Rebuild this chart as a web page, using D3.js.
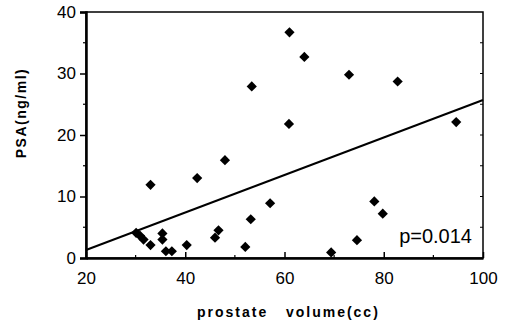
<!DOCTYPE html>
<html>
<head>
<meta charset="utf-8">
<script src="https://cdn.jsdelivr.net/npm/d3@7"></script>
<style>
  body { margin: 0; background: #fff; }
  svg { display: block; }
</style>
</head>
<body>
<div id="chart"></div>
<script>
// prostate volume (cc) vs PSA (ng/ml)
const volume = [61, 64, 73, 82.8, 53.4, 60.9, 94.6, 48, 42.4, 33, 30.1, 30.9, 31.6, 33,
  35.4, 35.4, 36.1, 37.3, 40.3, 46.7, 46, 52.1, 53.2, 57.1, 78.1, 79.8, 74.6, 69.4];
const psa = [36.7, 32.7, 29.8, 28.7, 27.9, 21.8, 22.1, 15.9, 13.0, 11.9, 4.1, 3.6, 3.0, 2.1,
  4.0, 3.0, 1.1, 1.1, 2.1, 4.5, 3.3, 1.8, 6.3, 8.9, 9.2, 7.2, 2.9, 0.9];
const fitX = [20, 100];
const fitY = [1.3, 25.7];
const xTicks = [20, 40, 60, 80, 100];
const yTicks = [0, 10, 20, 30, 40];
const pLabel = "p=0.014";

const width = 505, height = 323;
const margin = {left: 86, right: 22, top: 12, bottom: 65};

const svg = d3.select('#chart').append('svg')
  .attr('width', width)
  .attr('height', height);

const x = d3.scaleLinear().domain([20, 100]).range([margin.left, width - margin.right]);
const y = d3.scaleLinear().domain([0, 40]).range([height - margin.bottom, margin.top]);

const font = "'Liberation Sans', Arial, sans-serif";

// frame
svg.append('rect')
  .attr('x', x(20)).attr('y', y(40))
  .attr('width', x(100) - x(20)).attr('height', y(0) - y(40))
  .attr('fill', 'none').attr('stroke', '#000').attr('stroke-width', 1.5);

// y axis (outward ticks)
svg.append('g')
  .attr('transform', `translate(${x(20)},0)`)
  .call(d3.axisLeft(y).tickValues(yTicks).tickSize(6).tickPadding(4))
  .call(g => g.select('.domain').attr('stroke-width', 2.5))
  .call(g => g.selectAll('.tick line').attr('stroke-width', 1.5))
  .call(g => g.selectAll('.tick text').style('font', `17px ${font}`).attr('fill', '#000'));

svg.append('g')
  .selectAll('line')
  .data([5, 15, 25, 35])
  .join('line')
  .attr('x1', x(20) - 3).attr('x2', x(20))
  .attr('y1', d => y(d)).attr('y2', d => y(d))
  .attr('stroke', '#000').attr('stroke-width', 1.2);

// x axis (inward ticks)
svg.append('g')
  .attr('transform', `translate(0,${y(0)})`)
  .call(d3.axisBottom(x).tickValues(xTicks).tickSizeInner(-6).tickSizeOuter(0).tickPadding(14))
  .call(g => g.select('.domain').attr('stroke-width', 2.5))
  .call(g => g.selectAll('.tick line').attr('stroke-width', 1.5))
  .call(g => g.selectAll('.tick text').style('font', `17px ${font}`).attr('fill', '#000'));

svg.append('g')
  .selectAll('line')
  .data([30, 50, 70, 90])
  .join('line')
  .attr('x1', d => x(d)).attr('x2', d => x(d))
  .attr('y1', y(0)).attr('y2', y(0) - 3)
  .attr('stroke', '#000').attr('stroke-width', 1.2);

// right side small ticks
svg.append('g')
  .selectAll('line')
  .data([5, 10, 15, 20, 25, 30, 35])
  .join('line')
  .attr('x1', x(100) - 3).attr('x2', x(100))
  .attr('y1', d => y(d)).attr('y2', d => y(d))
  .attr('stroke', '#000').attr('stroke-width', 1);

// regression line
svg.append('line')
  .attr('x1', x(fitX[0])).attr('y1', y(fitY[0]))
  .attr('x2', x(fitX[1])).attr('y2', y(fitY[1]))
  .attr('stroke', '#000').attr('stroke-width', 2);

// points
svg.append('g')
  .selectAll('path')
  .data(volume.map((v, i) => [v, psa[i]]))
  .join('path')
  .attr('d', d3.symbol(d3.symbolSquare, 52))
  .attr('transform', d => `translate(${x(d[0])},${y(d[1])}) rotate(45)`)
  .attr('fill', '#000');

// p value
svg.append('text')
  .attr('x', 472).attr('y', 243)
  .attr('text-anchor', 'end')
  .style('font', `20px ${font}`)
  .text(pLabel);

// axis titles
svg.append('text')
  .attr('transform', `translate(26,113) rotate(-90)`)
  .attr('text-anchor', 'middle')
  .style('font', `bold 14px ${font}`)
  .style('letter-spacing', '1.5px')
  .text('PSA(ng/ml)');

svg.append('text')
  .attr('x', 197).attr('y', 317)
  .style('font', `bold 14px ${font}`)
  .style('letter-spacing', '2px')
  .style('white-space', 'pre')
  .text('prostate   volume(cc)');
</script>
</body>
</html>
